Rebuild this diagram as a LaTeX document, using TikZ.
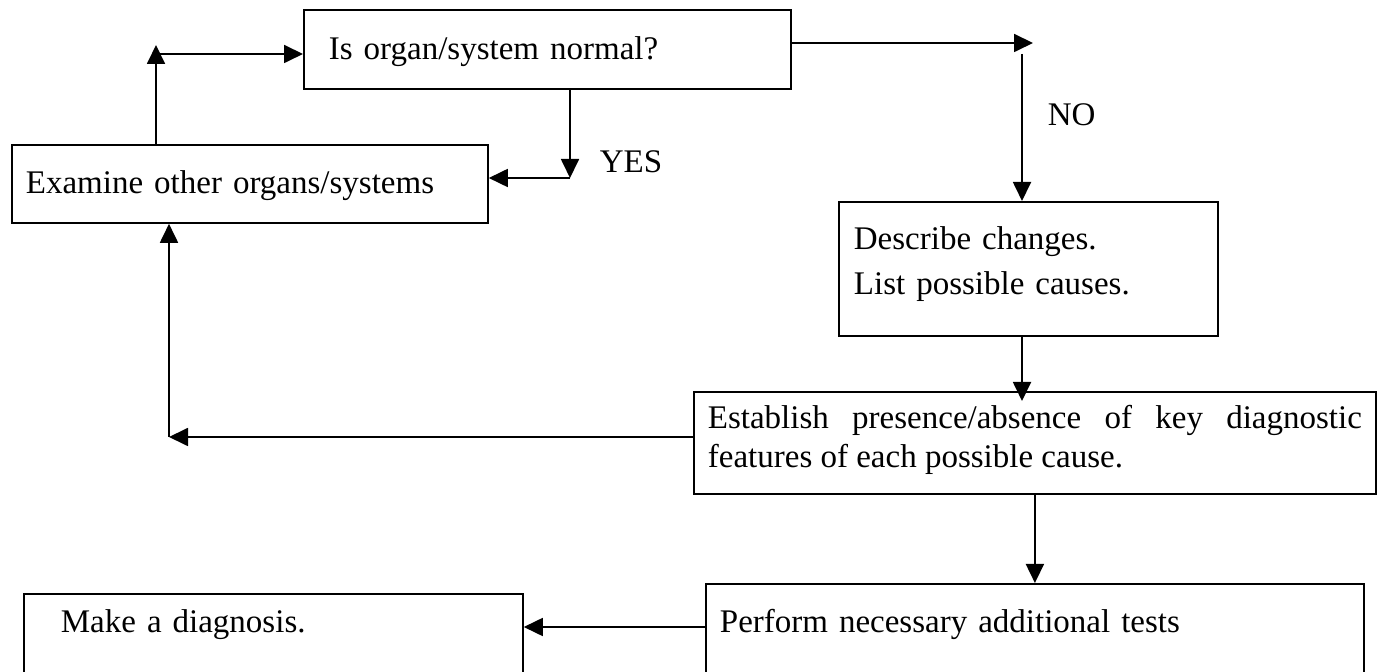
\documentclass[tikz,border=0pt]{standalone}
\usepackage{fontspec}
\setmainfont{Liberation Serif}
\usetikzlibrary{arrows.meta}

\tikzset{
  stagebox/.style={draw,rectangle,anchor=north west,inner ysep=0pt,align=left,
    font=\fontsize{16.5}{19.5}\selectfont},
  lbl/.style={anchor=west,inner sep=0pt,font=\fontsize{16.5}{19.5}\selectfont}
}

\begin{document}
\begin{tikzpicture}[x=0.5pt,y=-0.5pt,>={Triangle[length=9.5pt,width=9pt]},line width=0.9pt]
        \useasboundingbox (0,0) rectangle (1380,672);
        \clip (0,0) rectangle (1380,672);
        % boxes
        \node[stagebox,inner xsep=12.5pt,text width=218.5pt,text height=25pt,text depth=14.5pt] (normal) at (303,9) {Is organ/system normal?};
        \node[stagebox,inner xsep=7pt,text width=224pt,text height=24.5pt,text depth=14.5pt] (other) at (11,144) {Examine other organs/systems};
        \node[stagebox,inner xsep=7.5pt,text width=174.5pt,text height=24pt,text depth=43pt,
            font=\fontsize{16.5}{22.5}\selectfont] (describe) at (838,201) {Describe changes.\\List possible causes.};
        \node[stagebox,align=justify,inner xsep=7pt,text width=327pt,text height=18.5pt,text depth=32.5pt] (establish) at (693,391)
            {Establish presence/absence of key diagnostic\linebreak features of each possible cause.};
        \node[stagebox,inner xsep=7pt,text width=315pt,text height=24.5pt,text depth=34pt] (perform) at (705,583) {Perform necessary additional tests};
        \node[stagebox,inner xsep=18.5pt,text width=212.5pt,text height=19.5pt,text depth=34pt] (make) at (23,593) {Make a diagnosis.};
        \node[lbl] (yes) at (599,162) {YES};
        \node[lbl] (no) at (1047,115) {NO};
        % connectors
        \coordinate (upc) at (156,45);
        \coordinate (joinc) at (156,54);
        \draw[->] (other.north -| upc) -- (upc);
        \draw[->] (joinc) -- (normal.west |- joinc);
        \coordinate (yesc) at (570,178);
        \draw[->] (normal.south -| yesc) -- (yesc);
        \draw[->] (yesc) -- (other.east |- yesc);
        \coordinate (noc) at (1033,43);
        \coordinate (nodrop) at (1022,54);
        \draw[->] (normal.east |- noc) -- (noc);
        \draw[->] (nodrop) -- (describe.north -| nodrop);
        \draw[->,shorten >=-5pt] (describe.south -| nodrop) -- (establish.north -| nodrop);
        \draw[->] (establish.south) -- (perform.north);
        \coordinate (backc) at (169,437);
        \draw[->] (establish.west |- backc) -- (backc);
        \draw[->] (backc) -- (other.south -| backc);
        \coordinate (diagc) at (0,627);
        \draw[->] (perform.west |- diagc) -- (make.east |- diagc);
    \end{tikzpicture}
\end{document}
